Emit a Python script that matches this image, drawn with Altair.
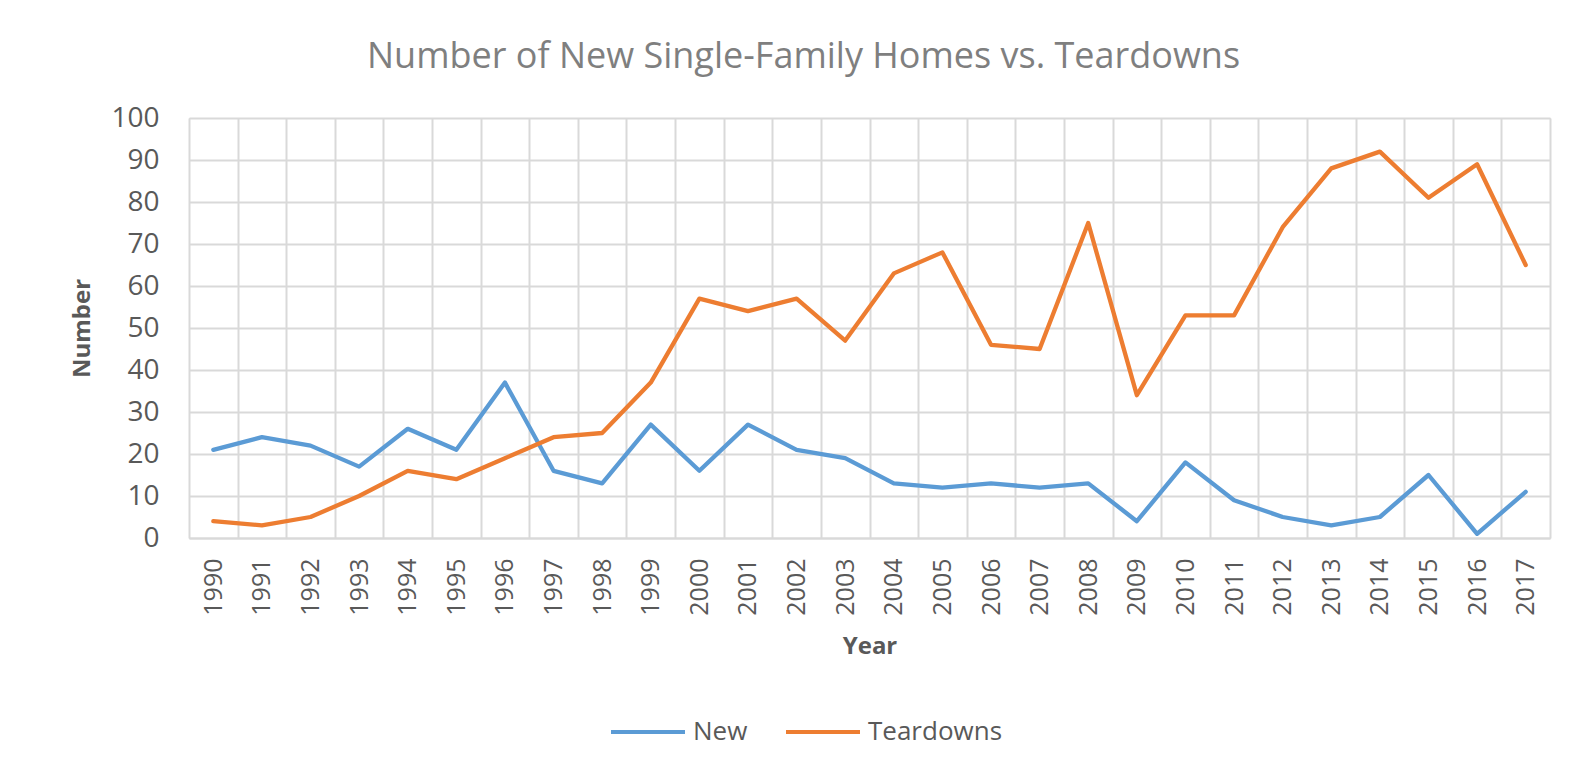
import altair as alt
import pandas as pd

years = ["1990", "1991", "1992", "1993", "1994", "1995", "1996", "1997", "1998", "1999",
         "2000", "2001", "2002", "2003", "2004", "2005", "2006", "2007", "2008", "2009",
         "2010", "2011", "2012", "2013", "2014", "2015", "2016", "2017"]
new_homes = [21, 24, 22, 17, 26, 21, 37, 16, 13, 27,
             16, 27, 21, 19, 13, 12, 13, 12, 13, 4,
             18, 9, 5, 3, 5, 15, 1, 11]
teardowns = [4, 3, 5, 10, 16, 14, 19, 24, 25, 37,
             57, 54, 57, 47, 63, 68, 46, 45, 75, 34,
             53, 53, 74, 88, 92, 81, 89, 65]
series_names = ["New", "Teardowns"]
series_colors = ["#5B9BD5", "#ED7D31"]
y_ticks = [0, 10, 20, 30, 40, 50, 60, 70, 80, 90, 100]

rows = []
for i, yr in enumerate(years):
    rows.append({"Year": yr, "Series": series_names[0], "Number": new_homes[i]})
    rows.append({"Year": yr, "Series": series_names[1], "Number": teardowns[i]})
df = pd.DataFrame(rows)

FONT = "Open Sans"
GRID = "#d9d9d9"
TXT = "#595959"

chart = alt.Chart(df).mark_line(
    strokeWidth=4.3, strokeJoin="round", strokeCap="round"
).encode(
    x=alt.X("Year:O", sort=years,
            scale=alt.Scale(type="band", paddingInner=0, paddingOuter=0),
            bandPosition=0.5,
            axis=alt.Axis(title="Year", labelAngle=270, tickBand="extent",
                          ticks=False, grid=True, gridColor=GRID, gridWidth=2,
                          domain=True, domainColor=GRID, domainWidth=2,
                          labelFont=FONT, labelFontSize=25, labelColor=TXT,
                          labelPadding=20,
                          titleFont=FONT, titleFontSize=24, titleFontWeight="bold",
                          titleColor=TXT, titlePadding=19)),
    y=alt.Y("Number:Q",
            scale=alt.Scale(domain=[0, 100], nice=False),
            axis=alt.Axis(title="Number", values=y_ticks, ticks=False, domain=False,
                          grid=True, gridColor=GRID, gridWidth=2,
                          labelFont=FONT, labelFontSize=28, labelColor=TXT,
                          labelPadding=30,
                          titleFont=FONT, titleFontSize=24, titleFontWeight="bold",
                          titleColor=TXT, titlePadding=16)),
    color=alt.Color("Series:N",
                    scale=alt.Scale(domain=series_names, range=series_colors),
                    legend=alt.Legend(title=None, orient="none", legendX=420, legendY=575,
                                      direction="horizontal", symbolType="stroke",
                                      symbolSize=5476, symbolStrokeWidth=4,
                                      labelFont=FONT, labelFontSize=26, labelColor=TXT,
                                      labelOffset=6, columnPadding=30, padding=0)),
).properties(
    width=1361,
    height=420,
    title=alt.TitleParams(text="Number of New Single-Family Homes vs. Teardowns",
                          font=FONT, fontSize=36, fontWeight="normal", color="#7f7f7f",
                          anchor="middle", baseline="alphabetic", offset=0, dx=-66),
    autosize=alt.AutoSizeParams(type="none"),
    padding={"left": 181, "top": 110, "right": 12, "bottom": 225},
).configure_view(fill="#eeeeee", stroke=None).configure(background="white")

chart.save("out.html", embed_options={"renderer": "svg", "actions": False})
